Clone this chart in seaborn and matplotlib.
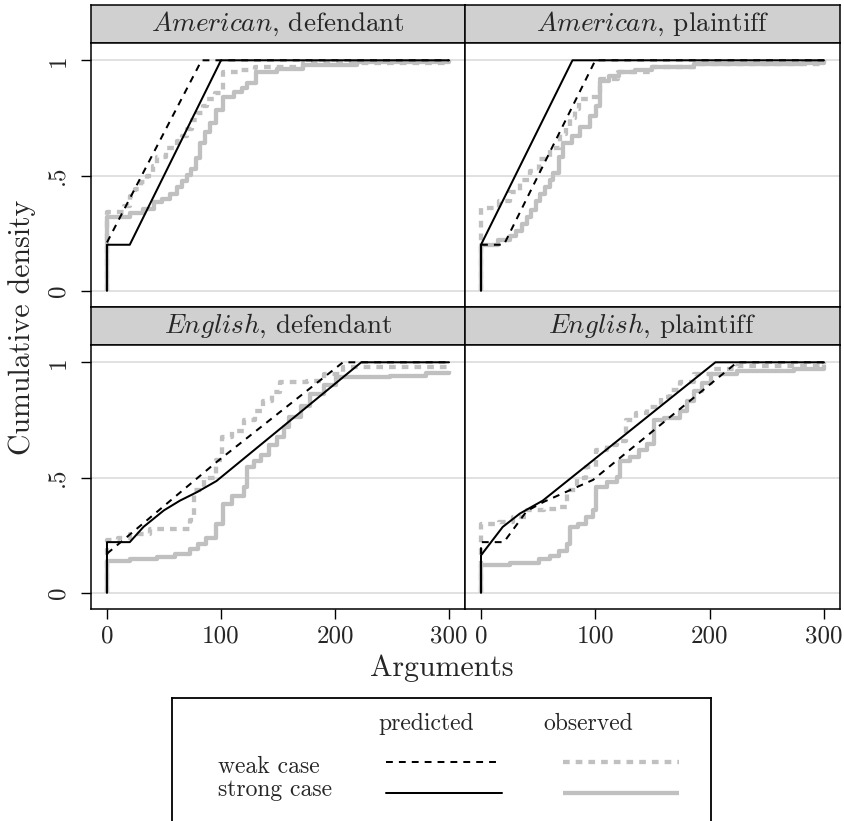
import numpy as np
import pandas as pd
import matplotlib
matplotlib.use("Agg")
import matplotlib.pyplot as plt
import seaborn as sns
from matplotlib.lines import Line2D

# ---------------- data ----------------
panel_titles = [r"$\mathit{American}$, defendant", r"$\mathit{American}$, plaintiff",
                r"$\mathit{English}$, defendant", r"$\mathit{English}$, plaintiff"]
x_ticks = [0, 100, 200, 300]
x_tick_labels = ["0", "100", "200", "300"]
y_ticks = [0, 0.5, 1]
y_tick_labels = ["0", ".5", "1"]

# American, defendant
am_def_pred_strong_x = [0, 0, 20, 100, 300]
am_def_pred_strong_y = [0, 0.2, 0.2, 1, 1]
am_def_pred_weak_x = [0, 83, 300]
am_def_pred_weak_y = [0.21, 1, 1]
am_def_obs_strong_x = [0, 0, 20, 32, 41, 48, 55, 61, 66, 70, 74, 78, 82, 86, 90, 96, 102, 111, 118, 123, 131, 149, 172, 219, 300]
am_def_obs_strong_y = [0, 0.32, 0.336, 0.357, 0.387, 0.400, 0.420, 0.452, 0.475, 0.502, 0.530, 0.575, 0.64, 0.690, 0.730, 0.784, 0.842, 0.864, 0.880, 0.90, 0.95, 0.964, 0.979, 0.993, 1.0]
am_def_obs_weak_x = [0, 0, 15, 20, 25, 30, 35, 40, 44, 52, 61, 66, 70, 75, 79, 84, 88, 95, 102, 115, 130, 172, 300]
am_def_obs_weak_y = [0, 0.34, 0.37, 0.41, 0.44, 0.47, 0.50, 0.54, 0.58, 0.62, 0.65, 0.67, 0.70, 0.74, 0.77, 0.80, 0.83, 0.86, 0.95, 0.96, 0.97, 0.99, 1.0]

# American, plaintiff
am_pla_pred_strong_x = [0, 0, 80, 300]
am_pla_pred_strong_y = [0, 0.2, 1, 1]
am_pla_pred_weak_x = [0, 20, 100, 300]
am_pla_pred_weak_y = [0.2, 0.2, 1, 1]
am_pla_obs_strong_x = [0, 0, 15, 25, 31, 36, 40, 44, 48, 52, 56, 60, 63, 68, 72, 80, 87, 95, 101, 104, 112, 121, 135, 150, 186, 282, 300]
am_pla_obs_strong_y = [0, 0.2, 0.22, 0.24, 0.26, 0.29, 0.32, 0.35, 0.39, 0.42, 0.45, 0.48, 0.51, 0.58, 0.64, 0.67, 0.71, 0.76, 0.80, 0.91, 0.93, 0.95, 0.96, 0.97, 0.985, 0.99, 1.0]
am_pla_obs_weak_x = [0, 0, 16, 25, 34, 43, 51, 60, 69, 74, 78, 82, 86, 95, 104, 120, 150, 190, 300]
am_pla_obs_weak_y = [0, 0.36, 0.39, 0.43, 0.48, 0.52, 0.57, 0.62, 0.68, 0.71, 0.75, 0.79, 0.83, 0.84, 0.92, 0.95, 0.97, 0.985, 1.0]

# English, defendant
en_def_pred_strong_x = [0, 0, 20, 32, 50, 64, 79, 96, 223, 300]
en_def_pred_strong_y = [0, 0.22, 0.22, 0.286, 0.358, 0.40, 0.437, 0.485, 1, 1]
en_def_pred_weak_x = [0, 96, 207, 300]
en_def_pred_weak_y = [0.17, 0.567, 1, 1]
en_def_obs_strong_x = [0, 0, 20, 44, 60, 73, 80, 87, 96, 102, 110, 120, 123, 129, 135, 142, 149, 155, 160, 170, 178, 190, 201, 248, 280, 300]
en_def_obs_strong_y = [0, 0.14, 0.147, 0.156, 0.17, 0.19, 0.21, 0.24, 0.30, 0.387, 0.42, 0.459, 0.545, 0.57, 0.60, 0.64, 0.675, 0.72, 0.762, 0.81, 0.863, 0.90, 0.935, 0.942, 0.955, 0.964]
en_def_obs_weak_x = [0, 0, 10, 20, 38, 73, 76, 85, 96, 101, 110, 120, 130, 137, 145, 152, 175, 190, 207, 300]
en_def_obs_weak_y = [0, 0.228, 0.24, 0.257, 0.279, 0.315, 0.445, 0.50, 0.575, 0.675, 0.70, 0.748, 0.79, 0.834, 0.87, 0.913, 0.92, 0.95, 0.98, 0.985]

# English, plaintiff
en_pla_pred_strong_x = [0, 0, 19, 34, 54, 205, 300]
en_pla_pred_strong_y = [0, 0.163, 0.286, 0.344, 0.40, 1, 1]
en_pla_pred_weak_x = [0, 0, 20, 40, 55, 98, 224, 300]
en_pla_pred_weak_y = [0, 0.22, 0.22, 0.355, 0.395, 0.49, 1, 1]
en_pla_obs_strong_x = [0, 0, 25, 51, 60, 68, 75, 78, 85, 92, 98, 101, 110, 119, 122, 130, 138, 145, 151, 160, 174, 180, 186, 193, 201, 224, 274, 300]
en_pla_obs_strong_y = [0, 0.12, 0.13, 0.149, 0.16, 0.18, 0.214, 0.286, 0.30, 0.33, 0.358, 0.459, 0.48, 0.502, 0.574, 0.59, 0.62, 0.646, 0.748, 0.76, 0.79, 0.83, 0.877, 0.91, 0.95, 0.964, 0.97, 0.99]
en_pla_obs_weak_x = [0, 0, 16, 28, 40, 55, 69, 75, 84, 92, 101, 110, 119, 127, 136, 145, 157, 165, 174, 186, 204, 224, 300]
en_pla_obs_weak_y = [0, 0.30, 0.307, 0.33, 0.358, 0.365, 0.372, 0.445, 0.50, 0.545, 0.618, 0.64, 0.66, 0.748, 0.78, 0.805, 0.848, 0.88, 0.913, 0.95, 0.97, 0.985, 1.0]

panels = [
    (am_def_pred_strong_x, am_def_pred_strong_y, am_def_pred_weak_x, am_def_pred_weak_y,
     am_def_obs_strong_x, am_def_obs_strong_y, am_def_obs_weak_x, am_def_obs_weak_y),
    (am_pla_pred_strong_x, am_pla_pred_strong_y, am_pla_pred_weak_x, am_pla_pred_weak_y,
     am_pla_obs_strong_x, am_pla_obs_strong_y, am_pla_obs_weak_x, am_pla_obs_weak_y),
    (en_def_pred_strong_x, en_def_pred_strong_y, en_def_pred_weak_x, en_def_pred_weak_y,
     en_def_obs_strong_x, en_def_obs_strong_y, en_def_obs_weak_x, en_def_obs_weak_y),
    (en_pla_pred_strong_x, en_pla_pred_strong_y, en_pla_pred_weak_x, en_pla_pred_weak_y,
     en_pla_obs_strong_x, en_pla_obs_strong_y, en_pla_obs_weak_x, en_pla_obs_weak_y),
]

# ---------------- style ----------------
sns.set_theme(style="white")
plt.rcParams['font.family'] = ['cmr10']
plt.rcParams['mathtext.fontset'] = 'cm'
plt.rcParams['axes.formatter.use_mathtext'] = True
plt.rcParams['axes.unicode_minus'] = False

GRAY = '#c0c0c0'
HEAD = '#d0d0d0'
GRID = '#dedede'
PRED_LW = 1.45
OBS_LW = 3.1
PRED_DASH = (0, (3.4, 3.0))
OBS_DASH = (0, (1.55, 1.4))
TICK_FS = 18
HEAD_FS = 19.5
LAB_FS = 21.5
LEG_FS = 17

W, H = 845, 821
fig = plt.figure(figsize=(W / 100, H / 100), dpi=100)


def rect(x0, y0, x1, y1):
    return [x0 / W, 1 - y1 / H, (x1 - x0) / W, (y1 - y0) / H]


col_x = [(91, 465), (465, 840)]
row_plot = [(43, 307), (345, 609)]
row_head = [(5, 43), (307, 345)]

for i, data in enumerate(panels):
    r, c = divmod(i, 2)
    x0, x1 = col_x[c]
    # header strip
    hax = fig.add_axes(rect(x0, row_head[r][0], x1, row_head[r][1]))
    hax.set_facecolor(HEAD)
    hax.set_xticks([])
    hax.set_yticks([])
    for s in hax.spines.values():
        s.set_color('black')
        s.set_linewidth(1.1)
        s.set_visible(True)
    hax.text(0.5, 0.5, panel_titles[i], ha='center', va='center',
             fontsize=HEAD_FS, transform=hax.transAxes)

    ax = fig.add_axes(rect(x0, row_plot[r][0], x1, row_plot[r][1]))
    ax.set_facecolor('white')
    (ps_x, ps_y, pw_x, pw_y, os_x, os_y, ow_x, ow_y) = data
    sns.lineplot(x=os_x, y=os_y, ax=ax, color=GRAY, lw=OBS_LW, drawstyle='steps-post',
                 estimator=None, sort=False, legend=False, zorder=2,
                 solid_capstyle='butt')
    sns.lineplot(x=ow_x, y=ow_y, ax=ax, color=GRAY, lw=OBS_LW, drawstyle='steps-post',
                 linestyle=OBS_DASH, estimator=None, sort=False, legend=False, zorder=2)
    sns.lineplot(x=pw_x, y=pw_y, ax=ax, color='black', lw=PRED_LW, linestyle=PRED_DASH,
                 estimator=None, sort=False, legend=False, zorder=3)
    sns.lineplot(x=ps_x, y=ps_y, ax=ax, color='black', lw=PRED_LW,
                 estimator=None, sort=False, legend=False, zorder=3)

    ax.set_xlim(-14, 314)
    ax.set_ylim(-0.07, 1.075)
    ax.set_xlabel('')
    ax.set_ylabel('')
    ax.set_yticks(y_ticks)
    ax.set_xticks(x_ticks)
    ax.yaxis.grid(True, color=GRID, lw=1.3)
    ax.xaxis.grid(False)
    ax.set_axisbelow(True)
    for s in ax.spines.values():
        s.set_color('black')
        s.set_linewidth(1.1)
        s.set_visible(True)
    if c == 0:
        ax.set_yticklabels(y_tick_labels, rotation=90, va='center')
        ax.tick_params(axis='y', left=True, length=7.5, width=1.0, color='black',
                       labelsize=TICK_FS, pad=8)
    else:
        ax.tick_params(axis='y', left=False, labelleft=False)
    if r == 1:
        ax.set_xticklabels(x_tick_labels)
        ax.tick_params(axis='x', bottom=True, length=7.5, width=1.0, color='black',
                       labelsize=TICK_FS, pad=4)
    else:
        ax.tick_params(axis='x', bottom=False, labelbottom=False)

# axis titles
fig.text(22 / W, 1 - 327 / H, 'Cumulative density', rotation=90, ha='center', va='center',
         fontsize=LAB_FS)
fig.text(442 / W, 1 - 668 / H, 'Arguments', ha='center', va='center', fontsize=LAB_FS)

# legend box
lax = fig.add_axes(rect(172, 698, 711, 850))
lax.set_xlim(172, 711)
lax.set_ylim(850, 698)
lax.set_xticks([])
lax.set_yticks([])
lax.set_facecolor('white')
for s in lax.spines.values():
    s.set_color('black')
    s.set_linewidth(1.3)
    s.set_visible(True)
lax.text(426, 724, 'predicted', ha='center', va='center', fontsize=LEG_FS)
lax.text(588, 724, 'observed', ha='center', va='center', fontsize=LEG_FS)
lax.text(218, 767, 'weak case', ha='left', va='center', fontsize=LEG_FS)
lax.text(218, 790, 'strong case', ha='left', va='center', fontsize=LEG_FS)
lax.add_line(Line2D([386, 502], [762, 762], color='black', lw=PRED_LW, linestyle=PRED_DASH))
lax.add_line(Line2D([386, 502], [793, 793], color='black', lw=PRED_LW))
lax.add_line(Line2D([563, 679], [762, 762], color=GRAY, lw=OBS_LW, linestyle=OBS_DASH))
lax.add_line(Line2D([563, 679], [793, 793], color=GRAY, lw=OBS_LW, solid_capstyle='butt'))

fig.savefig('out.png', dpi=100, facecolor='white')
